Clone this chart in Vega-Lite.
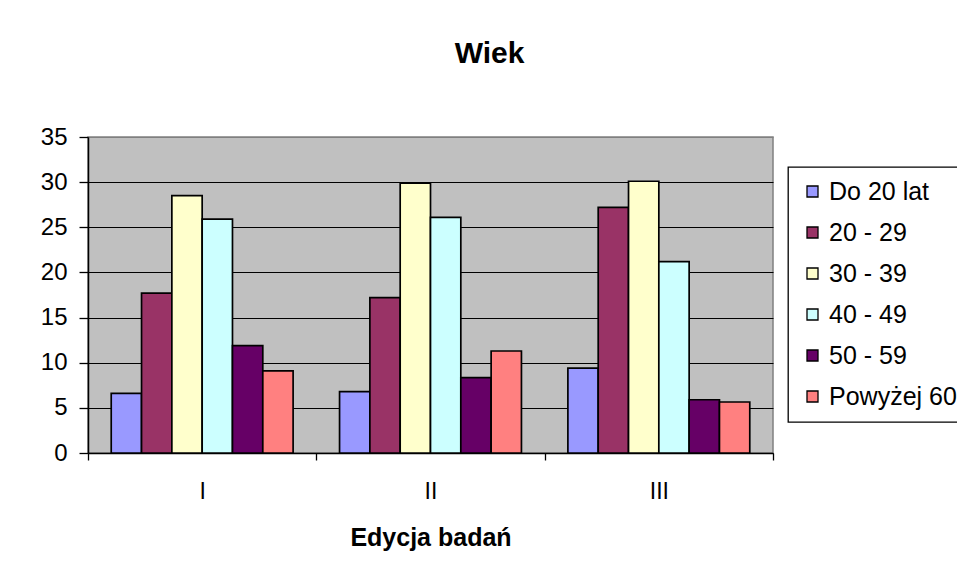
{
  "$schema": "https://vega.github.io/schema/vega-lite/v6.json",
  "width": 685,
  "height": 316,
  "autosize": {"type": "none"},
  "padding": {"left": 88, "top": 137, "right": 184, "bottom": 121},
  "background": "white",
  "title": {
    "text": "Wiek",
    "font": "Liberation Sans",
    "fontSize": 30,
    "fontWeight": "bold",
    "color": "black",
    "anchor": "middle",
    "dx": 59,
    "offset": 56
  },
  "data": {
    "values": [
      {"edycja": "I", "wiek": "Do 20 lat", "v": 6.6},
      {"edycja": "I", "wiek": "20 - 29", "v": 17.7},
      {"edycja": "I", "wiek": "30 - 39", "v": 28.5},
      {"edycja": "I", "wiek": "40 - 49", "v": 25.9},
      {"edycja": "I", "wiek": "50 - 59", "v": 11.9},
      {"edycja": "I", "wiek": "Powyżej 60", "v": 9.1},
      {"edycja": "II", "wiek": "Do 20 lat", "v": 6.8},
      {"edycja": "II", "wiek": "20 - 29", "v": 17.2},
      {"edycja": "II", "wiek": "30 - 39", "v": 29.9},
      {"edycja": "II", "wiek": "40 - 49", "v": 26.1},
      {"edycja": "II", "wiek": "50 - 59", "v": 8.35},
      {"edycja": "II", "wiek": "Powyżej 60", "v": 11.3},
      {"edycja": "III", "wiek": "Do 20 lat", "v": 9.4},
      {"edycja": "III", "wiek": "20 - 29", "v": 27.2},
      {"edycja": "III", "wiek": "30 - 39", "v": 30.1},
      {"edycja": "III", "wiek": "40 - 49", "v": 21.2},
      {"edycja": "III", "wiek": "50 - 59", "v": 5.9},
      {"edycja": "III", "wiek": "Powyżej 60", "v": 5.65}
    ]
  },
  "mark": {"type": "bar", "stroke": "black", "strokeWidth": 1.7, "opacity": 1, "strokeOpacity": 1},
  "encoding": {
    "x": {
      "field": "edycja",
      "type": "nominal",
      "sort": ["I", "II", "III"],
      "scale": {"paddingInner": 0, "paddingOuter": 0},
      "axis": {
        "title": "Edycja badań",
        "labelAngle": 0,
        "tickBand": "extent",
        "tickSize": 7,
        "tickColor": "black",
        "tickWidth": 1.3,
        "domainColor": "black",
        "domainWidth": 1.5,
        "labelPadding": 20,
        "labelFont": "Liberation Sans",
        "labelFontSize": 23,
        "labelColor": "black",
        "titleFont": "Liberation Sans",
        "titleFontSize": 25,
        "titleFontWeight": "bold",
        "titleColor": "black",
        "titlePadding": 22
      }
    },
    "xOffset": {
      "field": "wiek",
      "type": "nominal",
      "sort": ["Do 20 lat", "20 - 29", "30 - 39", "40 - 49", "50 - 59", "Powyżej 60"],
      "scale": {"paddingInner": 0, "paddingOuter": 0.766}
    },
    "y": {
      "field": "v",
      "type": "quantitative",
      "scale": {"domain": [0, 35], "nice": false},
      "axis": {
        "title": null,
        "values": [0, 5, 10, 15, 20, 25, 30, 35],
        "grid": true,
        "gridColor": {"condition": {"test": "datum.value === 35", "value": "#808080"}, "value": "black"},
        "gridWidth": 1.2,
        "gridOpacity": 1,
        "tickSize": 9,
        "tickColor": "black",
        "tickWidth": 1.3,
        "domainColor": "black",
        "domainWidth": 1.5,
        "labelPadding": 12,
        "labelFont": "Liberation Sans",
        "labelFontSize": 24,
        "labelColor": "black"
      }
    },
    "color": {
      "field": "wiek",
      "type": "nominal",
      "sort": ["Do 20 lat", "20 - 29", "30 - 39", "40 - 49", "50 - 59", "Powyżej 60"],
      "scale": {
        "domain": ["Do 20 lat", "20 - 29", "30 - 39", "40 - 49", "50 - 59", "Powyżej 60"],
        "range": ["#9999FF", "#993366", "#FFFFCC", "#CCFFFF", "#660066", "#FF8080"]
      },
      "legend": {
        "title": null,
        "orient": "none",
        "legendX": 700,
        "legendY": 30,
        "symbolType": "square",
        "symbolSize": 121,
        "symbolStrokeColor": "black",
        "symbolStrokeWidth": 1.3,
        "symbolOpacity": 1,
        "labelFont": "Liberation Sans",
        "labelFontSize": 25,
        "labelColor": "black",
        "labelOffset": 4,
        "rowPadding": 15,
        "padding": 12,
        "strokeColor": "black",
        "fillColor": "white",
        "labelLimit": 300
      }
    }
  },
  "config": {
    "view": {"fill": "#C0C0C0", "stroke": "#808080", "strokeWidth": 1.5},
    "legend": {"strokeWidth": 1.3}
  }
}
